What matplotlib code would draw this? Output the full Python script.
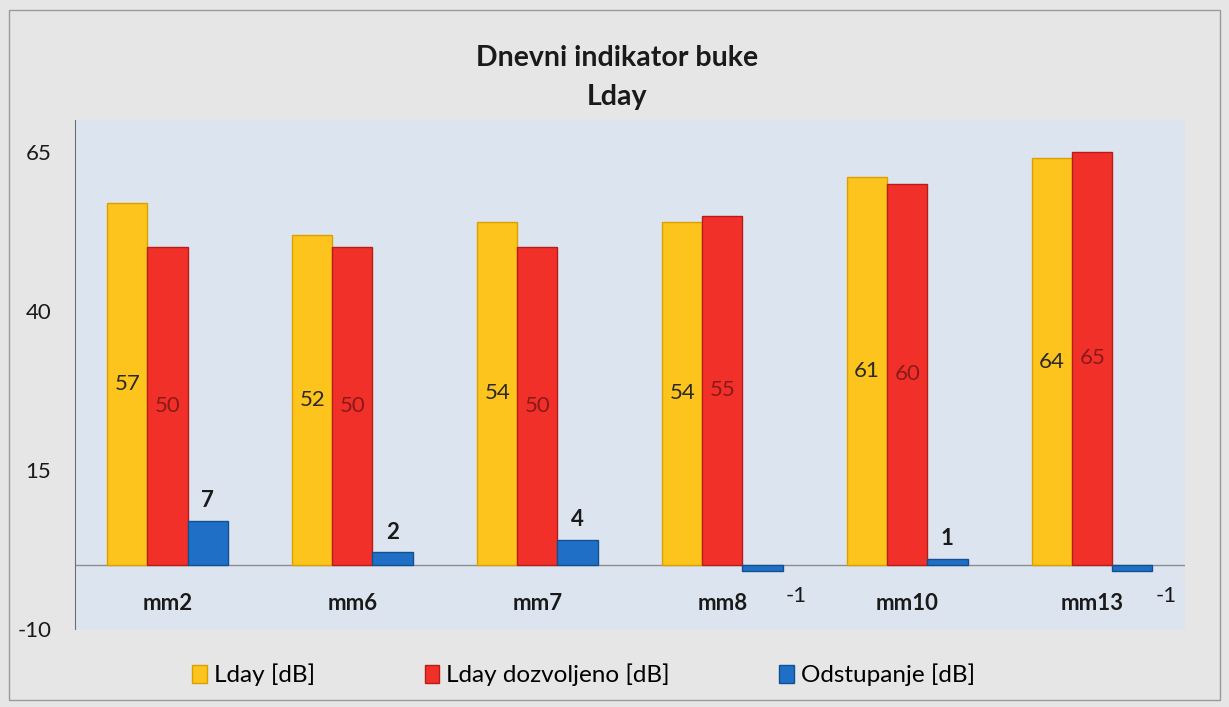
import matplotlib.pyplot as plt
import numpy as np
from matplotlib.patches import Rectangle

categories = ["mm2", "mm6", "mm7", "mm8", "mm10", "mm13"]
lday = [57, 52, 54, 54, 61, 64]
lday_allowed = [50, 50, 50, 55, 60, 65]
deviation = [7, 2, 4, -1, 1, -1]
series_names = ["Lday [dB]", "Lday dozvoljeno [dB]", "Odstupanje [dB]"]
y_ticks = [-10, 15, 40, 65]

plt.rcParams["font.family"] = ["Lato", "DejaVu Sans"]


def main() -> None:
    fig = plt.figure(figsize=(12.29, 7.07), dpi=100, facecolor="#e6e6e6")
    ax = fig.add_axes([0.061, 0.111, 0.903, 0.719])
    ax.set_facecolor("#dce5ef")

    # border round the whole chart
    fig.patches.append(Rectangle((0.007, 0.01), 0.986, 0.976, transform=fig.transFigure,
                                 fill=False, edgecolor="#9a9a9a", linewidth=1.0))

    x = np.arange(len(categories))
    w = 0.217

    colors = ["#fcc41c", "#f2302a", "#1f6fc6"]
    edges = ["#d9a000", "#b81c16", "#13508f"]
    values = [lday, lday_allowed, deviation]
    bars = []
    for k, vals in enumerate(values):
        b = ax.bar(x + (k - 1) * w, vals, width=w, color=colors[k], edgecolor=edges[k],
                   linewidth=1.0, label=series_names[k], zorder=3)
        bars.append(b)

    # labels inside the two level bars
    label_colors = ["#2a2a2a", "#8a1a1a"]
    for k in range(2):
        for rect, v in zip(bars[k], values[k]):
            ax.text(rect.get_x() + rect.get_width() / 2, v / 2, str(v), ha="center", va="center",
                    fontsize=16, color=label_colors[k], zorder=4)

    # deviation labels
    for rect, v in zip(bars[2], deviation):
        cx = rect.get_x() + rect.get_width() / 2
        if v >= 0:
            ax.annotate(str(v), (cx, v), xytext=(0, 7), textcoords="offset points",
                        ha="center", va="bottom", fontsize=16, fontweight="bold", color="#1a1a1a")
        else:
            ax.annotate(str(v), (cx, 0), xytext=(24, -22), textcoords="offset points",
                        ha="center", va="center", fontsize=16, color="#1a1a1a")

    # category labels just below the zero line
    for i, c in enumerate(categories):
        ax.text(i, -6, c, ha="center", va="center", fontsize=16, fontweight="bold", color="#1a1a1a")

    ax.axhline(0, color="#8c8c8c", linewidth=1.0, zorder=2)
    ax.set_xlim(-0.5, len(categories) - 0.5)
    ax.set_ylim(-10, 70)
    ax.set_xticks([])
    ax.set_yticks(y_ticks)
    ax.set_yticklabels([str(t) for t in y_ticks], fontsize=16, color="#1a1a1a")
    ax.tick_params(axis="y", length=0, pad=17)
    for s in ["top", "right", "bottom"]:
        ax.spines[s].set_visible(False)
    ax.spines["left"].set_color("#6e6e6e")

    fig.text(0.502, 0.918, "Dnevni indikator buke", ha="center", va="center",
             fontsize=20.5, fontweight="bold", color="#1a1a1a")
    fig.text(0.502, 0.863, "Lday", ha="center", va="center",
             fontsize=20.5, fontweight="bold", color="#1a1a1a")

    fig.legend(handles=bars, labels=series_names, loc="center", bbox_to_anchor=(0.475, 0.045),
               ncol=3, frameon=False, fontsize=17.5, handlelength=0.6, handleheight=0.8,
               handletextpad=0.3, columnspacing=4.5)

    fig.savefig("out.png", dpi=100, facecolor=fig.get_facecolor())


if __name__ == "__main__":
    main()
